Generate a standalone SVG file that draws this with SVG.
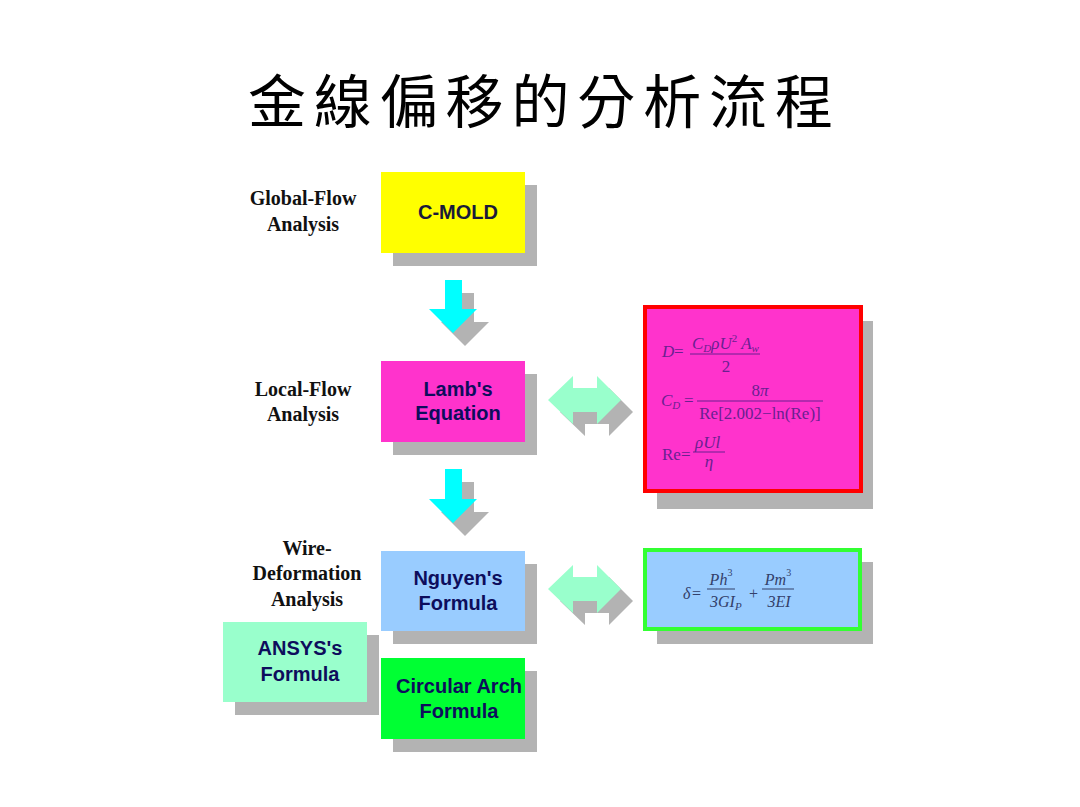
<svg xmlns="http://www.w3.org/2000/svg" width="1080" height="807" viewBox="0 0 1080 807">
<style>
.sh{fill:#b3b3b3}
.lab{font-family:"Liberation Serif","Times New Roman",serif;font-weight:bold;font-size:20px;fill:#111;text-anchor:middle}
.bt{font-family:"Liberation Sans",Arial,sans-serif;font-weight:bold;font-size:20px;fill:#0d0d5c;text-anchor:middle}
.fm{font-family:"Liberation Serif","Times New Roman",serif;font-size:17px;fill:#6a2090}
.fb{font-family:"Liberation Serif","Times New Roman",serif;font-size:16px;fill:#33406a}
.it{font-style:italic}
.bar{stroke:#6a2090;stroke-width:1}
.barb{stroke:#33406a;stroke-width:1}
.down{fill:#00ffff}
.dbl{fill:#99ffcc}
</style>
<rect width="1080" height="807" fill="#ffffff"/>
<text x="248" y="123" textLength="585" lengthAdjust="spacing" font-family="'Noto Sans CJK TC','Noto Sans CJK SC',sans-serif" font-size="58" fill="#000">金線偏移的分析流程</text>

<g id="labels">
<text class="lab" x="303" y="205">Global-Flow</text>
<text class="lab" x="303" y="231">Analysis</text>
<text class="lab" x="303" y="396">Local-Flow</text>
<text class="lab" x="303" y="421">Analysis</text>
<text class="lab" x="307" y="555">Wire-</text>
<text class="lab" x="307" y="580">Deformation</text>
<text class="lab" x="307" y="606">Analysis</text>
</g>

<g id="connectors">
<g id="arrow1">
<polygon class="sh" points="457,293 474,293 474,322 489,322 465,346 441,322 457,322"/>
<polygon class="down" points="445,280 462,280 462,309 477,309 453,333 429,309 445,309"/>
</g>
<g id="arrow2">
<polygon class="sh" points="457,482 474,482 474,512 489,512 465,536 441,512 457,512"/>
<polygon class="down" points="445,469 462,469 462,499 477,499 453,523 429,499 445,499"/>
</g>
<g id="dbl1">
<polygon class="sh" points="560,412 585,388 585,400 609,400 609,388 633,412 609,436 609,424 585,424 585,436"/>
<polygon class="dbl" points="548,400 573,376 573,388 597,388 597,376 621,400 597,424 597,412 573,412 573,424"/>
</g>
<g id="dbl2">
<polygon class="sh" points="560,601 585,577 585,589 609,589 609,577 633,601 609,625 609,613 585,613 585,625"/>
<polygon class="dbl" points="548,589 573,565 573,577 597,577 597,565 621,589 597,613 597,601 573,601 573,613"/>
</g>
</g>

<g id="cmold">
<rect class="sh" x="393" y="185" width="144" height="81"/>
<rect x="381" y="172" width="144" height="81" fill="#ffff00"/>
<text class="bt" x="458" y="219" style="fill:#1a1a3a">C-MOLD</text>
</g>

<g id="lamb">
<rect class="sh" x="393" y="374" width="144" height="81"/>
<rect x="381" y="361" width="144" height="81" fill="#ff33cc"/>
<text class="bt" x="458" y="396">Lamb's</text>
<text class="bt" x="458" y="420">Equation</text>
</g>

<g id="nguyen">
<rect class="sh" x="393" y="564" width="144" height="80"/>
<rect x="381" y="551" width="144" height="80" fill="#99ccff"/>
<text class="bt" x="458" y="585">Nguyen's</text>
<text class="bt" x="458" y="610">Formula</text>
</g>

<g id="circular">
<rect class="sh" x="393" y="671" width="144" height="81"/>
<rect x="381" y="658" width="144" height="81" fill="#00ff33"/>
<text class="bt" x="459" y="693">Circular Arch</text>
<text class="bt" x="459" y="718">Formula</text>
</g>

<g id="ansys">
<rect class="sh" x="235" y="635" width="144" height="80"/>
<rect x="223" y="622" width="144" height="80" fill="#99ffcc"/>
<text class="bt" x="300" y="655">ANSYS's</text>
<text class="bt" x="300" y="681">Formula</text>
</g>

<g id="lambFormula">
<rect class="sh" x="657" y="321" width="216" height="188"/>
<rect x="645" y="307" width="216" height="184" fill="#ff33cc" stroke="#ff0000" stroke-width="4"/>
<text class="fm it" x="662" y="357">D</text>
<text class="fm" x="674" y="357">=</text>
<text class="fm it" x="692" y="349">C<tspan font-size="11" dy="3">D</tspan><tspan dy="-3">ρU</tspan><tspan font-size="11" font-style="normal" dy="-7">2</tspan><tspan dy="7"> A</tspan><tspan font-size="11" dy="3">w</tspan></text>
<line class="bar" x1="690" y1="354" x2="760" y2="354"/>
<text class="fm" x="726" y="372" text-anchor="middle">2</text>
<text class="fm it" x="661" y="406">C<tspan font-size="11" dy="3">D</tspan></text>
<text class="fm" x="684" y="406">=</text>
<text class="fm" x="760" y="396" text-anchor="middle">8<tspan font-style="italic">π</tspan></text>
<line class="bar" x1="697" y1="401" x2="823" y2="401"/>
<text class="fm" x="760" y="419" text-anchor="middle">Re[2.002−ln(Re)]</text>
<text class="fm" x="662" y="460">Re=</text>
<text class="fm it" x="695" y="448">ρUl</text>
<line class="bar" x1="693" y1="452" x2="725" y2="452"/>
<text class="fm it" x="709" y="467" text-anchor="middle">η</text>
</g>

<g id="nguyenFormula">
<rect class="sh" x="657" y="562" width="216" height="82"/>
<rect x="645" y="550" width="215" height="79" fill="#99ccff" stroke="#33ff33" stroke-width="4"/>
<text class="fb it" x="683" y="599">δ</text>
<text class="fb" x="692" y="599">=</text>
<text class="fb it" x="721" y="585" text-anchor="middle">Ph<tspan font-size="10" font-style="normal" dy="-9">3</tspan></text>
<line class="barb" x1="707" y1="589" x2="735" y2="589"/>
<text class="fb it" x="710" y="607">3GI<tspan font-size="11" dy="3">P</tspan></text>
<text class="fb" x="749" y="599">+</text>
<text class="fb it" x="778" y="585" text-anchor="middle">Pm<tspan font-size="10" font-style="normal" dy="-9">3</tspan></text>
<line class="barb" x1="762" y1="589" x2="794" y2="589"/>
<text class="fb it" x="779" y="607" text-anchor="middle">3EI</text>
</g>
</svg>
